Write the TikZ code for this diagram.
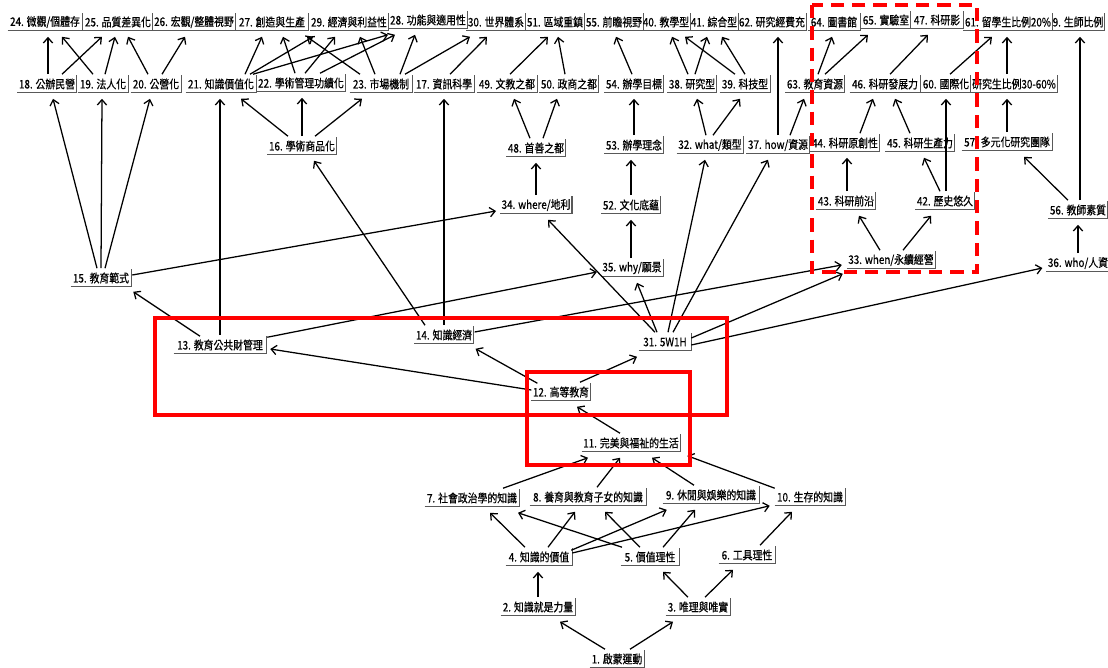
\documentclass[tikz,border=0pt]{standalone}
\usepackage{fontspec}
\newfontfamily\cjk[FakeStretch=0.84,FakeBold=0.6]{Noto Sans CJK TC}
\usetikzlibrary{arrows.meta,calc}
\tikzset{
  boxline/.style={draw=black!65, line width=0.9pt, -},
  lbl/.style={font=\cjk\fontsize{8.8}{10}\selectfont, inner xsep=1pt, inner ysep=1pt,
    minimum height=12.75pt, anchor=center,
    append after command={(\tikzlastnode.south west) edge[boxline] (\tikzlastnode.south east)
      (\tikzlastnode.south east) edge[boxline] (\tikzlastnode.north east)}},
  bw/.style={minimum width=#1*0.75pt},
  arr/.style={draw=black, line width=0.95pt, -{Straight Barb[length=4pt,width=7pt,line width=0.95pt]}},
  redbox/.style={draw=red, line width=3pt},
  reddash/.style={draw=red, line width=3pt, dash pattern=on 10pt off 6pt}
}
\newcommand\edg[4]{\draw[arr] ($(#1.north)+(#2,-1)$) -- ($(#3.south)+(#4,6)$);}
\begin{document}
\begin{tikzpicture}[x=0.75pt,y=-0.75pt]
\fill[white] (0,0) rectangle (1108,668);
\useasboundingbox (0,0) rectangle (1108,668);
% row 1
\node[lbl,bw=74] (n24) at (45,22) {24. 微觀/個體存};
\node[lbl,bw=68] (n25) at (118,22) {25. 品質差異化};
\node[lbl,bw=80] (n26) at (194,22) {26. 宏觀/整體視野};
\node[lbl,bw=72] (n27) at (272,22) {27. 創造與生產};
\node[lbl,bw=77] (n29) at (349,22) {29. 經濟與利益性};
\node[lbl,bw=76] (n28) at (428,20) {28. 功能與適用性};
\node[lbl,bw=57] (n30) at (496,22) {30. 世界體系};
\node[lbl,bw=57] (n51) at (555,22) {51. 區域重鎮};
\node[lbl,bw=56] (n55) at (614,22) {55. 前瞻視野};
\node[lbl,bw=47] (n40) at (666,22) {40. 教學型};
\node[lbl,bw=44] (n41) at (714,22) {41. 綜合型};
\node[lbl,bw=68] (n62) at (772,22) {62. 研究經費充};
\node[lbl,bw=52] (n64) at (834,22) {64. 圖書館};
\node[lbl,bw=48] (n65) at (886,20) {65. 實驗室};
\node[lbl,bw=52] (n47) at (937,20) {47. 科研影};
\node[lbl,bw=84] (n61) at (1008,22) {61. 留學生比例20\%};
\node[lbl,bw=52] (n9t) at (1078,22) {9. 生師比例};
% row 2
\node[lbl,bw=58] (n18) at (47,84) {18. 公辦民營};
\node[lbl,bw=50] (n19) at (103,84) {19. 法人化};
\node[lbl,bw=50] (n20) at (156,84) {20. 公營化};
\node[lbl,bw=70] (n21) at (221,84) {21. 知識價值化};
\node[lbl,bw=88] (n22) at (301,83) {22. 學術管理功績化};
\node[lbl,bw=62] (n23) at (381,84) {23. 市場機制};
\node[lbl,bw=60] (n17) at (444,84) {17. 資訊科學};
\node[lbl,bw=60] (n49) at (507,84) {49. 文教之都};
\node[lbl,bw=57] (n50) at (569,84) {50. 政商之都};
\node[lbl,bw=59] (n54) at (634,84) {54. 辦學目標};
\node[lbl,bw=48] (n38) at (692,84) {38. 研究型};
\node[lbl,bw=50] (n39) at (745,84) {39. 科技型};
\node[lbl,bw=56] (n63) at (815,84) {63. 教育資源};
\node[lbl,bw=70] (n46) at (885,84) {46. 科研發展力};
\node[lbl,bw=47] (n60) at (946,84) {60. 國際化};
\node[lbl,bw=83] (n59) at (1014,84) {研究生比例30-60\%};
% row 3
\node[lbl,bw=66] (n16) at (302,146) {16. 學術商品化};
\node[lbl,bw=58] (n48) at (536,148) {48. 首善之都};
\node[lbl,bw=58] (n53) at (634,145) {53. 辦學理念};
\node[lbl,bw=58] (n32) at (710,145) {32. what/類型};
\node[lbl,bw=56] (n37) at (778,145) {37. how/資源};
\node[lbl,bw=65] (n44) at (845,143) {44. 科研原創性};
\node[lbl,bw=65] (n45) at (920,143) {45. 科研生產力};
\node[lbl,bw=90] (n57) at (1007,142) {57. 多元化研究團隊};
% row 4
\node[lbl,bw=64] (n34) at (536,205) {34. where/地利};
\node[lbl,bw=58] (n52) at (631,205) {52. 文化底蘊};
\node[lbl,bw=56] (n43) at (846,201) {43. 科研前沿};
\node[lbl,bw=58] (n42) at (945,201) {42. 歷史悠久};
\node[lbl,bw=56] (n56) at (1078,210) {56. 教師素質};
% row 5
\node[lbl,bw=60] (n15) at (101,278) {15. 教育範式};
\node[lbl,bw=56] (n35) at (632,268) {35. why/願景};
\node[lbl,bw=78] (n33) at (891,260) {33. when/永續經營};
\node[lbl,bw=56] (n36) at (1078,263) {36. who/人資};
% middle
\node[lbl,bw=92] (n13) at (220,345) {13. 教育公共財管理};
\node[lbl,bw=58] (n14) at (444,335) {14. 知識經濟};
\node[lbl,bw=52] (n31) at (665,342) {31. 5W1H};
\node[lbl,bw=58] (n12) at (561,392) {12. 高等教育};
\node[lbl,bw=98] (n11) at (631,443) {11. 完美與福祉的生活};
% bottom
\node[lbl,bw=94] (n7) at (472,498) {7. 社會政治學的知識};
\node[lbl,bw=116] (n8) at (588,497) {8. 養育與教育子女的知識};
\node[lbl,bw=96] (n9) at (711,495) {9. 休閒與娛樂的知識};
\node[lbl,bw=70] (n10) at (810,497) {10. 生存的知識};
\node[lbl,bw=66] (n4) at (539,557) {4. 知識的價值};
\node[lbl,bw=58] (n5) at (650,557) {5. 價值理性};
\node[lbl,bw=56] (n6) at (747,555) {6. 工具理性};
\node[lbl,bw=74] (n2) at (538,607) {2. 知識就是力量};
\node[lbl,bw=64] (n3) at (698,607) {3. 唯理與唯實};
\node[lbl,bw=54] (n1) at (617,659) {1. 啟蒙運動};
% edges bottom
\edg{n1}{-12}{n2}{22}
\edg{n1}{13}{n3}{-25}
\edg{n2}{0}{n4}{-1}
\edg{n3}{-10}{n5}{13}
\edg{n3}{7}{n6}{-14}
\edg{n4}{-14}{n7}{18}
\edg{n4}{9}{n8}{-13}
\draw[arr] ($(n4.north east)+(-1,2)$) -- ($(n9.south west)+(4,6)$);
\draw[arr] ($(n4.east)+(0,-4)$) -- ($(n10.south west)+(-5,0)$);
\edg{n5}{-28}{n7}{46}
\edg{n5}{-10}{n8}{17}
\edg{n5}{13}{n9}{-16}
\edg{n6}{13}{n10}{-18}
\edg{n7}{31}{n11}{-43}
\edg{n8}{9}{n11}{-11}
\edg{n9}{-17}{n11}{21}
\draw[arr] ($(n10.north west)+(0,0)$) -- ($(n11.south east)+(7,4)$);
% middle
\edg{n11}{-11}{n12}{16}
\draw[arr] ($(n12.west)+(0,-2)$) -- ($(n13.east)+(4,4)$);
\draw[arr] ($(n12.north west)+(6,0)$) -- ($(n14.south east)+(2,5)$);
\edg{n12}{19}{n31}{-28}
\draw[arr] ($(n13.north)+(-20,0)$) -- ($(n15.south east)+(2,5)$);
\edg{n13}{0}{n21}{-1}
\draw[arr] ($(n13.north east)+(1,1)$) -- ($(n35.west)+(-4,4)$);
\edg{n14}{-19}{n16}{12}
\edg{n14}{0}{n17}{0}
\draw[arr] ($(n14.east)+(1,-3)$) -- ($(n33.west)+(-5,5)$);
\edg{n31}{-10}{n34}{12}
\edg{n31}{-8}{n35}{5}
\edg{n31}{3}{n32}{-5}
\edg{n31}{8}{n37}{-10}
\draw[arr] ($(n31.east)+(0,-4)$) -- ($(n33.south west)+(-4,5)$);
\draw[arr] ($(n31.east)+(0,3)$) -- ($(n36.west)+(-4,5)$);
\edg{n15}{-4}{n18}{6}
\edg{n15}{0}{n19}{-1}
\edg{n15}{4}{n20}{-6}
\draw[arr] ($(n15.east)+(1,-3)$) -- ($(n34.west)+(-4,6)$);
\edg{n16}{-14}{n21}{20}
\edg{n16}{0}{n22}{1}
\edg{n16}{13}{n23}{-19}
\edg{n34}{0}{n48}{0}
\edg{n48}{-6}{n49}{7}
\edg{n48}{7}{n50}{-12}
\edg{n35}{-1}{n52}{0}
\edg{n52}{0}{n53}{-3}
\edg{n53}{0}{n54}{0}
\edg{n32}{-4}{n38}{5}
\edg{n32}{3}{n39}{-5}
\edg{n37}{0}{n62}{6}
\edg{n37}{12}{n63}{-11}
\edg{n33}{-11}{n43}{13}
\edg{n33}{12}{n42}{-14}
\edg{n43}{1}{n44}{2}
\edg{n42}{-5}{n45}{4}
\edg{n42}{1}{n60}{0}
\edg{n44}{15}{n46}{-12}
\edg{n45}{-10}{n46}{10}
\edg{n57}{0}{n59}{-7}
\edg{n56}{-10}{n57}{17}
\edg{n56}{2}{n9t}{2}
\edg{n36}{0}{n56}{0}
% row 2 -> row 1
\edg{n18}{1}{n24}{3}
\edg{n19}{-10}{n24}{17}
\edg{n18}{15}{n25}{-16}
\edg{n19}{2}{n25}{-3}
\edg{n20}{-8}{n25}{10}
\edg{n20}{6}{n26}{-9}
\edg{n21}{24}{n27}{-10}
\edg{n21}{29}{n29}{-36}
\edg{n21}{32}{n28}{-40}
\edg{n22}{-6}{n27}{11}
\edg{n22}{4}{n29}{-14}
\edg{n22}{19}{n28}{-33}
\edg{n23}{-21}{n27}{35}
\edg{n23}{-6}{n29}{11}
\edg{n23}{19}{n28}{-13}
\edg{n23}{24}{n30}{-26}
\edg{n17}{6}{n30}{-9}
\edg{n49}{3}{n51}{-7}
\edg{n50}{-4}{n51}{3}
\edg{n54}{-2}{n55}{2}
\edg{n38}{-4}{n40}{6}
\edg{n38}{3}{n41}{-7}
\edg{n39}{-10}{n40}{19}
\edg{n39}{0}{n41}{8}
\edg{n63}{3}{n64}{-2}
\edg{n63}{10}{n65}{-18}
\edg{n46}{5}{n47}{-9}
\edg{n60}{4}{n61}{-16}
\edg{n59}{-7}{n61}{-1}
% red frames
\draw[redbox] (155,318) rectangle (727,415);
\draw[redbox] (527,372) rectangle (690,465);
\draw[reddash] (812,5) rectangle (977,272);
\end{tikzpicture}
\end{document}
